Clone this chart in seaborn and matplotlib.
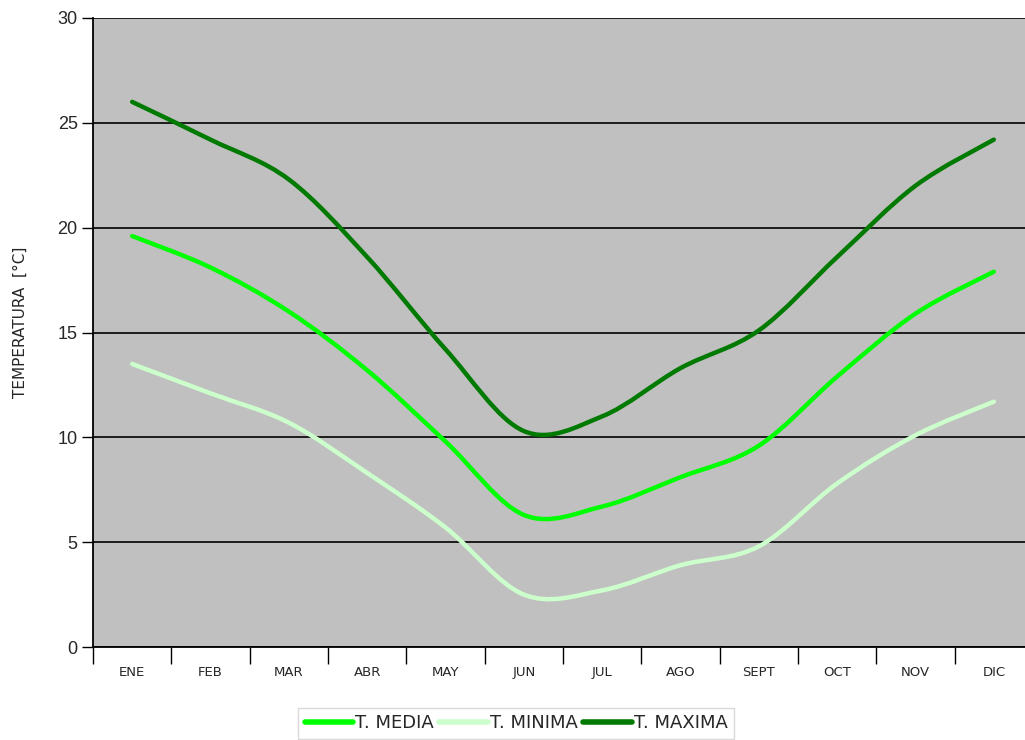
import matplotlib
matplotlib.use("Agg")
import matplotlib.pyplot as plt
from matplotlib.lines import Line2D
from matplotlib.patches import PathPatch
from matplotlib.path import Path
import numpy as np
import seaborn as sns

# datos mensuales (°C)
meses = ["ENE", "FEB", "MAR", "ABR", "MAY", "JUN", "JUL", "AGO", "SEPT", "OCT", "NOV", "DIC"]
t_media = [19.6, 18.1, 16.0, 13.2, 9.8, 6.3, 6.7, 8.1, 9.6, 12.9, 15.9, 17.9]
t_minima = [13.5, 12.1, 10.7, 8.3, 5.7, 2.5, 2.7, 3.9, 4.8, 7.8, 10.1, 11.7]
t_maxima = [26.0, 24.2, 22.3, 18.6, 14.2, 10.3, 11.0, 13.3, 15.1, 18.6, 22.0, 24.2]

series = [
    ("T. MEDIA", t_media, "#00ff00"),
    ("T. MINIMA", t_minima, "#ccffcc"),
    ("T. MAXIMA", t_maxima, "#007a00"),
]

sns.set_theme(style="white", rc={"axes.facecolor": "#c0c0c0"})
plt.rcParams["font.family"] = ["DejaVu Sans"]


def curva_suave(x, y):
    """Curva Bezier tipo Excel (Catmull-Rom) que pasa por los puntos."""
    pts = np.column_stack([x, y]).astype(float)
    ext = np.vstack([pts[0], pts, pts[-1]])
    verts = [pts[0]]
    codes = [Path.MOVETO]
    for i in range(len(pts) - 1):
        p0, p1, p2, p3 = ext[i], ext[i + 1], ext[i + 2], ext[i + 3]
        verts += [p1 + (p2 - p0) / 6, p2 - (p3 - p1) / 6, p2]
        codes += [Path.CURVE4] * 3
    return Path(verts, codes)


fig = plt.figure(figsize=(10.25, 7.4), dpi=100)
ax = fig.add_axes([93 / 1025, 1 - 647 / 740, 940 / 1025, 629 / 740])

x = np.arange(len(meses))
for nombre, vals, color in series:
    ax.add_patch(PathPatch(curva_suave(x, vals), facecolor="none", edgecolor=color,
                           lw=3.2, capstyle="round", joinstyle="round", zorder=3))

ax.set_xlim(-0.5, len(meses) - 0.5)
ax.set_ylim(0, 30)
ax.set_yticks(range(0, 31, 5))
ax.set_xticks(x)
ax.set_xticklabels(meses, fontsize=9.5)
ax.set_xticks(np.arange(-0.5, len(meses), 1), minor=True)
ax.tick_params(axis="x", which="major", length=0, pad=14)
ax.tick_params(axis="x", which="minor", length=12, width=1, color="black", direction="out", bottom=True)
ax.tick_params(axis="y", length=8, width=1, color="black", direction="out", left=True, pad=3)
for lab in ax.get_yticklabels():
    lab.set_fontfamily("Liberation Sans")
    lab.set_fontsize(13)

ax.yaxis.grid(True, color="black", lw=1.2)
ax.set_axisbelow(True)
for lado in ["left", "bottom"]:
    ax.spines[lado].set_color("black")
    ax.spines[lado].set_linewidth(1.3)
for lado in ["top", "right"]:
    ax.spines[lado].set_visible(False)

fig.text(20 / 1025, 1 - 322 / 740, "TEMPERATURA  [°C]", rotation=90,
         ha="center", va="center", fontsize=11)

handles = [Line2D([0], [0], color=c, lw=4) for _, _, c in series]
fig.legend(handles, [n for n, _, _ in series], loc="upper center",
           bbox_to_anchor=(516 / 1025, 1 - 699 / 740), ncol=3, fontsize=13,
           frameon=True, fancybox=False, edgecolor="#d0d0d0", facecolor="white",
           handlelength=2.7, handletextpad=0.1, columnspacing=0.3, borderpad=0.35)

fig.savefig("out.png", dpi=100)
